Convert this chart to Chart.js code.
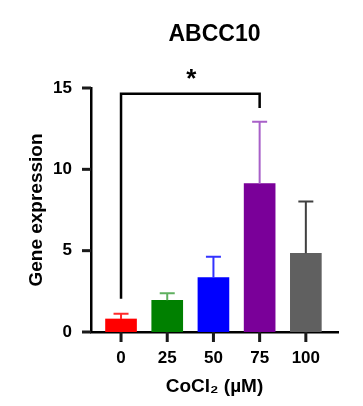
<!DOCTYPE html>
<html><head><meta charset="utf-8">
<script src="https://cdn.jsdelivr.net/npm/chart.js@4/dist/chart.umd.min.js"></script>
<style>html,body{margin:0;padding:0;background:#fff}#wrap{width:363px;height:406px}</style>
</head><body><div id="wrap"><canvas id="c" width="363" height="406"></canvas></div>
<script>
const categories = ['0', '25', '50', '75', '100'];
const means = [0.80, 1.95, 3.34, 9.12, 4.84];
const sdUpper = [1.12, 2.38, 4.63, 12.93, 8.03];
const barColors = ['#ff0000', '#008000', '#0000ff', '#7a0099', '#606060'];
const errColors = ['#ff2a2a', '#5fb05f', '#3333ff', '#a860c8', '#404040'];
const yTicks = [0, 5, 10, 15];
const bracket = {from: 0, to: 3, leftY: 2.05, topY: 14.65, rightY: 13.77, label: '*', labelY: 15.85};
const chartTitle = 'ABCC10';
const yTitle = 'Gene expression';
const xTitle = 'CoCl\u2082 (\u00b5M)';

const FONT = '"Liberation Sans", Arial, sans-serif';

const overlay = {
  id: 'overlay',
  afterDraw(chart) {
    const ctx = chart.ctx, xs = chart.scales.x, ys = chart.scales.y;
    const ca = chart.chartArea;
    ctx.save();
    // axis tick marks
    ctx.fillStyle = '#1a1a1a';
    for (const v of yTicks) {
      const y = ys.getPixelForValue(v);
      ctx.fillRect(ca.left - 9, y - 1.5, 9, 3);
    }
    for (let i = 0; i < categories.length; i++) {
      const x = xs.getPixelForValue(i);
      ctx.fillRect(x - 1.5, ca.bottom, 3, 10);
    }
    // error bars
    means.forEach((m, i) => {
      const x = xs.getPixelForValue(i);
      const y0 = ys.getPixelForValue(m);
      const y1 = ys.getPixelForValue(sdUpper[i]);
      ctx.strokeStyle = errColors[i];
      ctx.lineWidth = 2;
      ctx.beginPath();
      ctx.moveTo(x, y0); ctx.lineTo(x, y1);
      ctx.moveTo(x - 7.5, y1); ctx.lineTo(x + 7.5, y1);
      ctx.stroke();
    });
    // bracket
    const xl = xs.getPixelForValue(bracket.from), xr = xs.getPixelForValue(bracket.to);
    ctx.strokeStyle = '#000'; ctx.lineWidth = 2.5; ctx.lineJoin = 'miter';
    ctx.beginPath();
    ctx.moveTo(xl, ys.getPixelForValue(bracket.leftY));
    ctx.lineTo(xl, ys.getPixelForValue(bracket.topY));
    ctx.lineTo(xr, ys.getPixelForValue(bracket.topY));
    ctx.lineTo(xr, ys.getPixelForValue(bracket.rightY));
    ctx.stroke();
    ctx.fillStyle = '#000';
    ctx.font = 'bold 26px ' + FONT;
    ctx.textAlign = 'center'; ctx.textBaseline = 'middle';
    ctx.fillText(bracket.label, (xl + xr) / 2 + 1, ys.getPixelForValue(bracket.labelY) + 6);
    // title
    ctx.font = 'bold 23px ' + FONT;
    ctx.fillText(chartTitle, (ca.left + ca.right) / 2, 35);
    ctx.restore();
  }
};

new Chart(document.getElementById('c'), {
  type: 'bar',
  data: {
    datasets: [{
      data: means.map((v, i) => ({x: i, y: v})),
      backgroundColor: barColors,
      borderWidth: 0,
      barThickness: 31
    }]
  },
  options: {
    responsive: false,
    animation: false,
    events: [],
    layout: {padding: {top: 88, right: 25, bottom: 0, left: 0}},
    plugins: {legend: {display: false}, tooltip: {enabled: false}, title: {display: false}},
    scales: {
      x: {
        type: 'linear', min: -0.65, max: 4.696, offset: false,
        afterBuildTicks: s => { s.ticks = categories.map((c, i) => ({value: i})); },
        afterFit: s => { s.height = 74; },
        ticks: {
          callback: v => categories[v],
          font: {family: FONT, size: 17, weight: 'bold'}, color: '#000', padding: 8,
          maxRotation: 0, autoSkip: false
        },
        grid: {display: false},
        border: {display: true, color: '#000', width: 2.5},
        title: {display: true, text: xTitle, font: {family: FONT, size: 19, weight: 'bold'}, color: '#000', padding: {top: 0, bottom: 8}}
      },
      y: {
        type: 'linear', min: 0, max: 15,
        afterBuildTicks: s => { s.ticks = yTicks.map(v => ({value: v})); },
        afterFit: s => { s.width = 91; },
        ticks: {font: {family: FONT, size: 17, weight: 'bold'}, color: '#000', padding: 11},
        grid: {display: false},
        border: {display: true, color: '#000', width: 2.5},
        title: {display: true, text: yTitle, font: {family: FONT, size: 19, weight: 'bold'}, color: '#000', padding: {top: 25, bottom: 0}}
      }
    }
  },
  plugins: [overlay]
});
</script></body></html>
